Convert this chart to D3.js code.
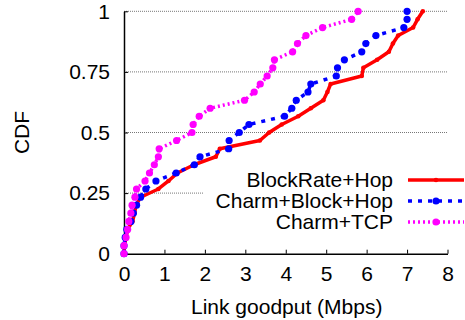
<!DOCTYPE html>
<html>
<head>
<meta charset="utf-8">
<script src="https://cdn.jsdelivr.net/npm/d3@7"></script>
<style>
  html, body { margin: 0; padding: 0; background: #fff; }
  svg { display: block; }
  text { font-family: "Liberation Sans", Arial, Helvetica, sans-serif; fill: #000; }
</style>
</head>
<body>
<svg id="chart" width="465" height="320"></svg>
<script>
// CDF levels shared by all three measured sets of links
const cdfLevels = [0, 0.033, 0.067, 0.1, 0.133, 0.167, 0.2, 0.233, 0.267, 0.3,
  0.333, 0.367, 0.4, 0.433, 0.467, 0.5, 0.533, 0.567, 0.6, 0.633,
  0.667, 0.7, 0.733, 0.767, 0.8, 0.833, 0.867, 0.9, 0.933, 0.967, 1];

// Link goodput (Mbps) at each CDF level
const blockRateHop = [0, 0.01, 0.05, 0.09, 0.21, 0.26, 0.30, 0.41, 0.85, 1.10,
  1.32, 1.73, 2.27, 2.37, 3.36, 3.59, 3.90, 4.31, 4.62, 4.93,
  5.03, 5.11, 5.88, 5.92, 6.26, 6.55, 6.65, 6.78, 7.15, 7.26, 7.39];
const charmBlockHop = [0, 0.0, 0.03, 0.07, 0.17, 0.23, 0.31, 0.41, 0.54, 0.79,
  1.29, 1.74, 1.88, 2.59, 2.60, 2.85, 3.09, 3.97, 4.15, 4.26,
  4.55, 4.62, 5.25, 5.28, 5.45, 5.88, 5.98, 6.23, 6.92, 7.00, 7.00];
const charmTcp = [0, 0.0, 0.05, 0.09, 0.12, 0.17, 0.20, 0.27, 0.31, 0.52,
  0.63, 0.75, 0.85, 0.87, 1.30, 1.68, 1.71, 1.86, 2.13, 2.98,
  3.22, 3.37, 3.54, 3.68, 3.72, 4.17, 4.29, 4.50, 4.91, 5.63, 5.79];

const seriesNames = ["BlockRate+Hop", "Charm+Block+Hop", "Charm+TCP"];
const xTicks = [0, 1, 2, 3, 4, 5, 6, 7, 8];
const yTicks = [0, 0.25, 0.5, 0.75, 1];
const yTickLabels = ["0", "0.25", "0.5", "0.75", "1"];

const styles = [
  { color: "#ff0000", dash: null, width: 3.5, r: 2.3 },
  { color: "#0000ff", dash: "4,6", width: 3.5, r: 3.6 },
  { color: "#ff00ff", dash: "2,3", width: 3.5, r: 3.6 }
];

const series = [blockRateHop, charmBlockHop, charmTcp].map((xs, i) => ({
  name: seriesNames[i],
  style: styles[i],
  points: xs.map((v, j) => ({ x: v, y: cdfLevels[j] }))
}));

const svg = d3.select("#chart");
const x = d3.scaleLinear().domain([0, 8]).range([124, 447.5]);
const y = d3.scaleLinear().domain([0, 1]).range([253.7, 11.3]);

// horizontal grid lines
svg.append("g")
  .selectAll("line")
  .data(yTicks.filter(d => d > 0))
  .join("line")
  .attr("x1", x(0)).attr("x2", x(8))
  .attr("y1", d => y(d)).attr("y2", d => y(d))
  .attr("stroke", "#777").attr("stroke-width", 1)
  .attr("stroke-dasharray", "1,1");

// opaque key background
svg.append("rect")
  .attr("x", 203).attr("y", 168).attr("width", 262).attr("height", 66)
  .attr("fill", "#fff");

// axes
const xAxis = d3.axisBottom(x).tickValues(xTicks).tickSizeInner(-4).tickSizeOuter(0)
  .tickPadding(12).tickFormat(d3.format("d"));
const gx = svg.append("g").attr("transform", `translate(0,${y(0)})`).call(xAxis);
gx.select(".domain").attr("stroke", "#000").attr("stroke-width", 1.5);
gx.selectAll(".tick line").attr("stroke", "#000").attr("stroke-width", 1);
gx.selectAll(".tick text").attr("font-size", 21)
  .attr("font-family", "Liberation Sans, Arial, sans-serif");

const yAxis = d3.axisLeft(y).tickValues(yTicks).tickSizeInner(-4).tickSizeOuter(0)
  .tickPadding(14).tickFormat((d, i) => yTickLabels[i]);
const gy = svg.append("g").attr("transform", `translate(${x(0)},0)`).call(yAxis);
gy.select(".domain").attr("stroke", "#000").attr("stroke-width", 1.5);
gy.selectAll(".tick line").attr("stroke", "#000").attr("stroke-width", 1);
gy.selectAll(".tick text").attr("font-size", 21)
  .attr("font-family", "Liberation Sans, Arial, sans-serif");

// axis titles
svg.append("text")
  .attr("x", (x(0) + x(8)) / 2 + 1).attr("y", 314)
  .attr("text-anchor", "middle").attr("font-size", 21)
  .text("Link goodput (Mbps)");
svg.append("text")
  .attr("transform", `translate(29,${(y(0) + y(1)) / 2}) rotate(-90)`)
  .attr("text-anchor", "middle").attr("font-size", 21)
  .text("CDF");

// curves with point markers
const line = d3.line().x(d => x(d.x)).y(d => y(d.y));
const plot = svg.append("g");
series.forEach(s => {
  plot.append("path")
    .datum(s.points)
    .attr("d", line)
    .attr("fill", "none")
    .attr("stroke", s.style.color)
    .attr("stroke-width", s.style.width)
    .attr("stroke-dasharray", s.style.dash)
    .attr("stroke-linejoin", "round");
  plot.append("g")
    .selectAll("circle")
    .data(s.points)
    .join("circle")
    .attr("cx", d => x(d.x)).attr("cy", d => y(d.y))
    .attr("r", s.style.r)
    .attr("fill", s.style.color);
});

// key
const key = svg.append("g");
series.forEach((s, i) => {
  const ky = 180 + i * 21;
  key.append("text")
    .attr("x", 393).attr("y", ky).attr("dy", "0.35em")
    .attr("text-anchor", "end").attr("font-size", 21)
    .text(s.name);
  key.append("line")
    .attr("x1", 408).attr("x2", 464).attr("y1", ky).attr("y2", ky)
    .attr("stroke", s.style.color)
    .attr("stroke-width", s.style.width)
    .attr("stroke-dasharray", s.style.dash);
  key.append("circle")
    .attr("cx", 436).attr("cy", ky).attr("r", s.style.r)
    .attr("fill", s.style.color);
});
</script>
</body>
</html>
